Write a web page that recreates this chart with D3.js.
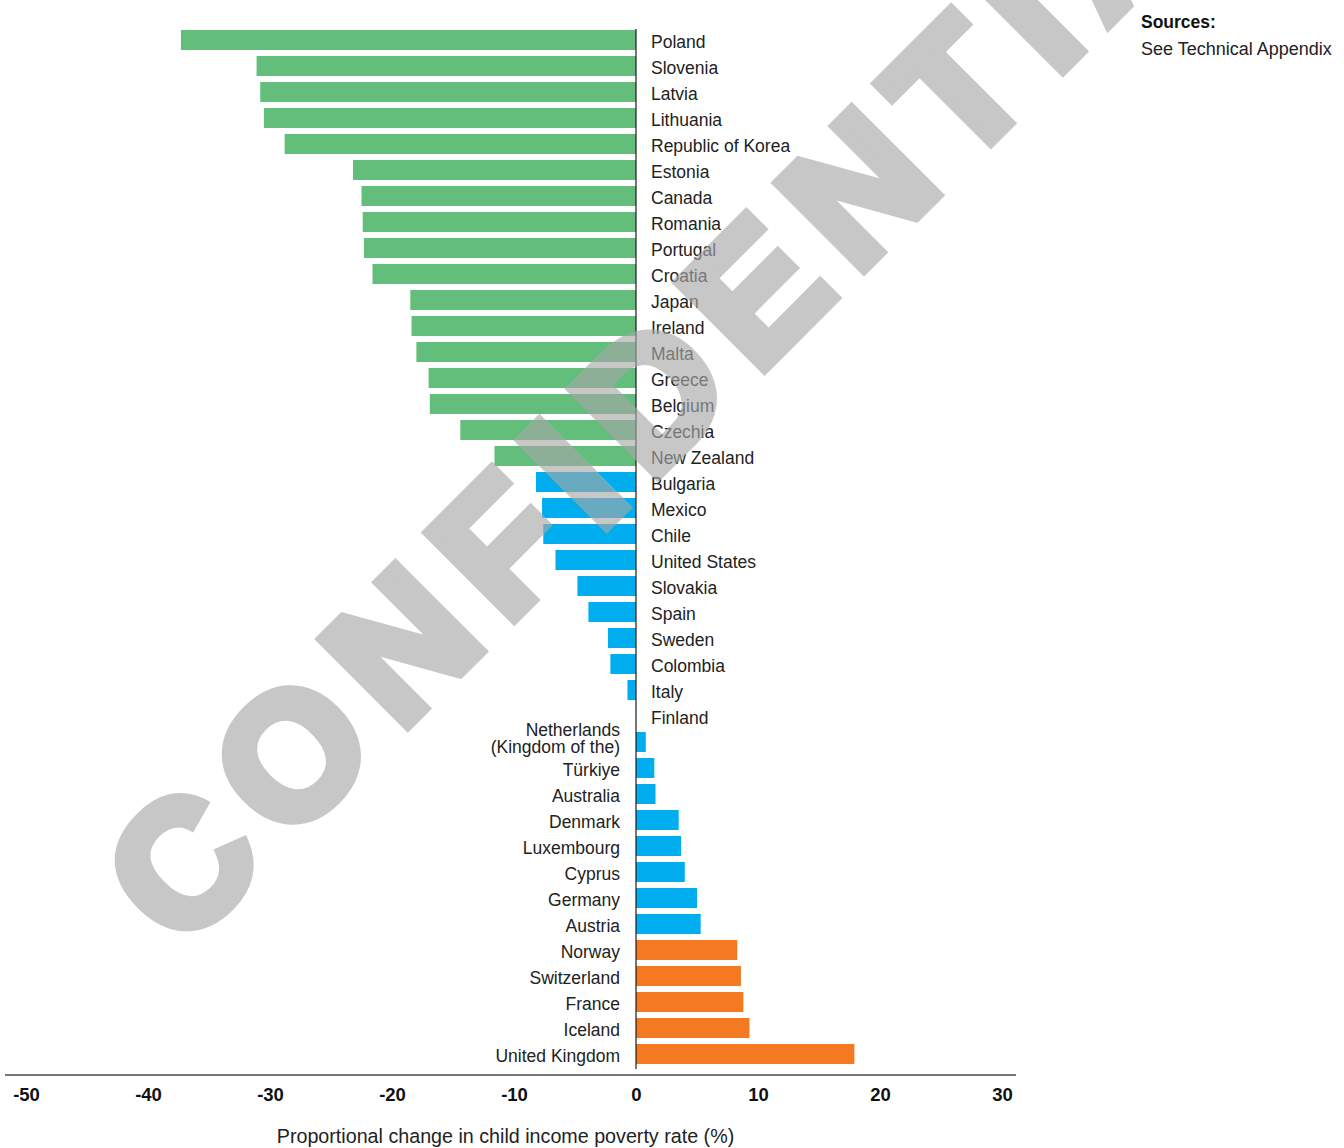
<!DOCTYPE html>
<html>
<head>
<meta charset="utf-8">
<script src="https://cdn.jsdelivr.net/npm/d3@7"></script>
<style>
  html, body { margin: 0; padding: 0; background: #fff; }
  svg { display: block; }
  text { font-family: "Liberation Sans", Arial, sans-serif; }
</style>
</head>
<body>
<svg id="chart" width="1344" height="1148"></svg>
<script>
const countries = [
  "Poland","Slovenia","Latvia","Lithuania","Republic of Korea","Estonia","Canada",
  "Romania","Portugal","Croatia","Japan","Ireland","Malta","Greece","Belgium",
  "Czechia","New Zealand","Bulgaria","Mexico","Chile","United States","Slovakia",
  "Spain","Sweden","Colombia","Italy","Finland","Netherlands (Kingdom of the)",
  "Türkiye","Australia","Denmark","Luxembourg","Cyprus","Germany","Austria",
  "Norway","Switzerland","France","Iceland","United Kingdom"
];
const values = [
  -37.3,-31.1,-30.8,-30.5,-28.8,-23.2,-22.5,
  -22.4,-22.3,-21.6,-18.5,-18.4,-18.0,-17.0,-16.9,
  -14.4,-11.6,-8.2,-7.7,-7.6,-6.6,-4.8,
  -3.9,-2.3,-2.1,-0.7,0.0,0.8,
  1.5,1.6,3.5,3.7,4.0,5.0,5.3,
  8.3,8.6,8.8,9.3,17.9
];
const groups = [
  "top","top","top","top","top","top","top",
  "top","top","top","top","top","top","top","top",
  "top","top","middle","middle","middle","middle","middle",
  "middle","middle","middle","middle","middle","middle",
  "middle","middle","middle","middle","middle","middle","middle",
  "bottom","bottom","bottom","bottom","bottom"
];
const groupNames = ["top","middle","bottom"];
const groupColors = ["#63BE7B","#00AEEF","#F47920"];
const xTicks = [-50,-40,-30,-20,-10,0,10,20,30];
const axisTitle = "Proportional change in child income poverty rate (%)";
const sourcesTitle = "Sources:";
const sourcesText = "See Technical Appendix";
const watermark = "CONFIDENTIAL";

const data = countries.map((c, i) => ({ country: c, value: values[i], group: groups[i] }));

const svg = d3.select("#chart");

const x = d3.scaleLinear().domain([-50, 30]).range([26, 1002]);
const y = d3.scaleBand().domain(countries).range([27, 1067]).paddingInner(0.23).paddingOuter(0.115);
const color = d3.scaleOrdinal().domain(groupNames).range(groupColors);

// bars
svg.append("g").selectAll("rect").data(data).join("rect")
  .attr("x", d => x(Math.min(0, d.value)))
  .attr("y", d => y(d.country))
  .attr("width", d => Math.abs(x(d.value) - x(0)))
  .attr("height", y.bandwidth())
  .attr("fill", d => color(d.group));

// zero line
svg.append("line")
  .attr("x1", x(0)).attr("x2", x(0))
  .attr("y1", 29).attr("y2", 1069)
  .attr("stroke", "#1a1a1a").attr("stroke-width", 1.2);

// labels
const lab = svg.append("g").selectAll("text").data(data).join("text")
  .attr("x", d => d.value <= 0 ? x(0) + 15 : x(0) - 16)
  .attr("text-anchor", d => d.value <= 0 ? "start" : "end")
  .attr("font-size", "17.5px")
  .attr("fill", "#222");
lab.each(function(d) {
  const t = d3.select(this);
  const cy = y(d.country) + y.bandwidth() / 2;
  const idx = d.country.indexOf(" (");
  if (idx > 0) {
    const lines = [d.country.slice(0, idx), d.country.slice(idx + 1)];
    t.attr("y", cy);
    t.append("tspan").attr("x", t.attr("x")).attr("y", cy - 6).text(lines[0]);
    t.append("tspan").attr("x", t.attr("x")).attr("y", cy + 11).text(lines[1]);
  } else {
    t.attr("y", cy).attr("dy", "0.44em").text(d.country);
  }
});

// x axis
svg.append("line")
  .attr("x1", 5).attr("x2", 1016)
  .attr("y1", 1075).attr("y2", 1075)
  .attr("stroke", "#777").attr("stroke-width", 2);

const axis = svg.append("g")
  .attr("transform", "translate(0,1075)")
  .call(d3.axisBottom(x).tickValues(xTicks).tickSize(0).tickPadding(13).tickFormat(d => String(d)));
axis.select(".domain").remove();
axis.selectAll("text")
  .attr("font-family", "'Liberation Sans', Arial, sans-serif")
  .attr("font-size", "18.5px")
  .attr("font-weight", "bold")
  .attr("fill", "#111");

svg.append("text")
  .attr("x", 505.5).attr("y", 1143)
  .attr("text-anchor", "middle")
  .attr("font-size", "19.7px")
  .attr("fill", "#222")
  .text(axisTitle);

// sources
svg.append("text")
  .attr("x", 1141).attr("y", 28)
  .attr("font-size", "17.5px").attr("font-weight", "bold").attr("fill", "#111")
  .text(sourcesTitle);
svg.append("text")
  .attr("x", 1141).attr("y", 55)
  .attr("font-size", "18px").attr("fill", "#222")
  .text(sourcesText);

// watermark
svg.append("text")
  .attr("transform", "translate(180,952) rotate(-45)")
  .attr("font-family", "'Liberation Sans', Arial, sans-serif")
  .attr("font-size", "175px")
  .attr("font-weight", "bold")
  .attr("letter-spacing", "24px")
  .attr("fill", "#a8a8a8")
  .attr("stroke", "#a8a8a8")
  .attr("stroke-width", 12)
  .attr("stroke-linejoin", "miter")
  .attr("opacity", 0.635)
  .text(watermark);
</script>
</body>
</html>
